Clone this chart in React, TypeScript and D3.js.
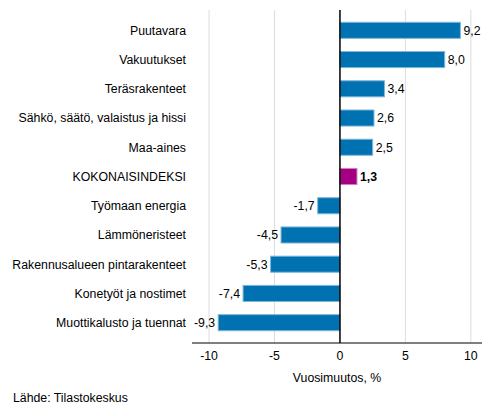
import * as d3 from "d3";

const categories = [
    "Puutavara",
    "Vakuutukset",
    "Teräsrakenteet",
    "Sähkö, säätö, valaistus ja hissi",
    "Maa-aines",
    "KOKONAISINDEKSI",
    "Työmaan energia",
    "Lämmöneristeet",
    "Rakennusalueen pintarakenteet",
    "Konetyöt ja nostimet",
    "Muottikalusto ja tuennat",
];
const values = [9.2, 8.0, 3.4, 2.6, 2.5, 1.3, -1.7, -4.5, -5.3, -7.4, -9.3];
const xTicks = [-10, -5, 0, 5, 10];
const totalLabel = "KOKONAISINDEKSI";

const App = () => {
    const width = 493;
    const height = 416;
    const font = "Liberation Sans, Arial, sans-serif";
    const fs = 12.3;

    const xScale = d3.scaleLinear().domain([-11.3, 10.85]).range([192, 482]);
    const yScale = d3
        .scaleBand()
        .domain(categories)
        .range([10, 343])
        .paddingInner(0.45)
        .paddingOuter(0.42);

    const fmt = (v) => v.toFixed(1).replace(".", ",");
    const axisY = 343;

    return (
        <svg
            width={width}
            height={height}
            style={{ position: "absolute", left: 0, top: 0, background: "#fff" }}
            fontFamily={font}
        >
            {/* gridlines */}
            {xTicks
                .filter((t) => t !== 0)
                .map((t) => (
                    <line
                        key={t}
                        x1={xScale(t)}
                        x2={xScale(t)}
                        y1={10}
                        y2={axisY}
                        stroke="#dddddd"
                        strokeWidth={1}
                    />
                ))}
            {categories.map((c, i) => {
                const v = values[i];
                const x0 = xScale(Math.min(0, v));
                const w = Math.abs(xScale(v) - xScale(0));
                const y = yScale(c);
                const isTotal = c === totalLabel;
                const cy = y + yScale.bandwidth() / 2;
                return (
                    <g key={c}>
                        <rect
                            x={x0}
                            y={y}
                            width={w}
                            height={yScale.bandwidth()}
                            fill={isTotal ? "#a50082" : "#0072b2"}
                            stroke={isTotal ? "#d27fc0" : "#7fb8d8"}
                            strokeWidth={1}
                        />
                        <text
                            x={v >= 0 ? xScale(v) + 3 : xScale(v) - 3}
                            y={cy}
                            dy="0.35em"
                            textAnchor={v >= 0 ? "start" : "end"}
                            fontSize={fs}
                            fontWeight={isTotal ? "bold" : "normal"}
                            fill="#000"
                        >
                            {fmt(v)}
                        </text>
                        <text
                            x={186}
                            y={cy}
                            dy="0.35em"
                            textAnchor="end"
                            fontSize={fs}
                            fill="#000"
                        >
                            {c}
                        </text>
                    </g>
                );
            })}
            {/* zero line */}
            <line
                x1={xScale(0)}
                x2={xScale(0)}
                y1={10}
                y2={axisY}
                stroke="#000"
                strokeWidth={1.5}
            />
            {/* x axis */}
            <line x1={192} x2={482} y1={axisY} y2={axisY} stroke="#000" strokeWidth={1} />
            {xTicks.map((t) => (
                <text
                    key={t}
                    x={xScale(t)}
                    y={356}
                    dy="0.35em"
                    textAnchor="middle"
                    fontSize={fs}
                    fill="#000"
                >
                    {t}
                </text>
            ))}
            <text x={337} y={378} dy="0.35em" textAnchor="middle" fontSize={fs} fill="#000">
                Vuosimuutos, %
            </text>
            <text x={13} y={398} dy="0.35em" fontSize={fs} fill="#000">
                Lähde: Tilastokeskus
            </text>
        </svg>
    );
};

export default App;
